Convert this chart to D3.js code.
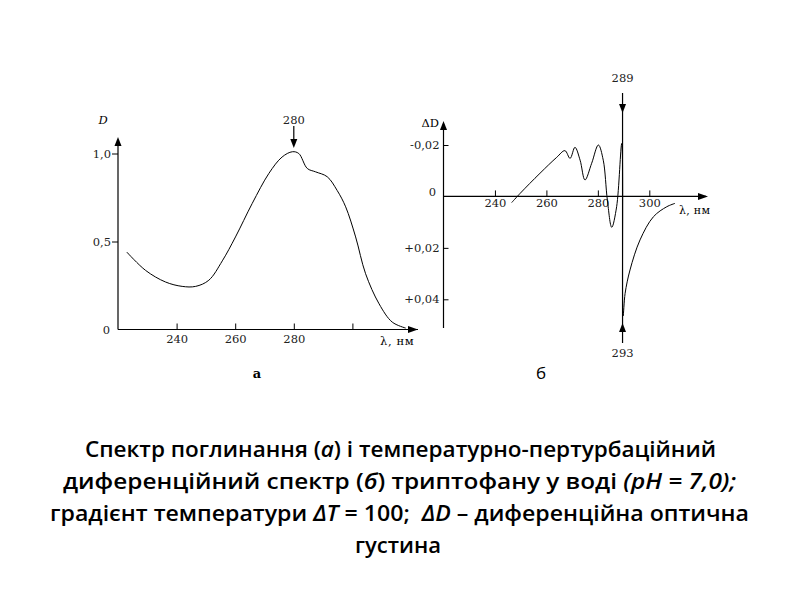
<!DOCTYPE html>
<html>
<head>
<meta charset="utf-8">
<script src="https://cdn.jsdelivr.net/npm/d3@7"></script>
<style>
  body { margin: 0; background: #fff; }
  svg { display: block; }
</style>
</head>
<body>
<svg id="chart"></svg>
<script>
// --- data ---
// (a) absorption spectrum
const lambdaA = [223, 229.4, 236.2, 241.9, 246.5, 251, 255.6, 260.1, 265.8, 271.5, 276, 279.5, 281.7, 284.6, 287.4, 291.4, 294.8, 297.7, 301.1, 304.5, 309.1, 313.6, 318.2];
const densityA = [0.44, 0.336, 0.27, 0.245, 0.245, 0.28, 0.39, 0.526, 0.716, 0.887, 0.98, 1.01, 1.0, 0.915, 0.896, 0.868, 0.79, 0.697, 0.526, 0.317, 0.146, 0.042, 0.008];
const xTicksA = [240, 260, 280, 300];
const xTickLabelsA = ["240", "260", "280", ""];
const yTicksA = [0.5, 1.0];
const yTickLabelsA = ["0,5", "1,0"];
const peakA = 280;

// (б) temperature-perturbation difference spectrum
const lambdaB = [246.5, 249.8, 257.5, 264.0, 267.2, 269.2, 271.1, 273.1, 275.0, 277.6, 280.2, 282.1, 283.7, 285.4, 287.3, 289.3, 289.8, 290.6, 292.5, 296.4, 301.6, 306.8, 310.0];
const deltaB = [0.0024, -0.0012, -0.009, -0.0152, -0.0178, -0.0148, -0.0191, -0.0141, -0.0064, -0.0129, -0.020, -0.0141, 0.0014, 0.012, 0.004, -0.0206, 0.0465, 0.0377, 0.0286, 0.0169, 0.0079, 0.0040, 0.0027];
const xTicksB = [240, 260, 280, 300];
const xTickLabelsB = ["240", "260", "280", "300"];
const yTicksB = [-0.02, 0.02, 0.04];
const yTickLabelsB = ["-0,02", "+0,02", "+0,04"];
const peakB = 289.6;
const peakLabelsB = ["289", "293"];

const width = 800, height = 600;
const svg = d3.select("#chart").attr("width", width).attr("height", height);
svg.append("rect").attr("width", width).attr("height", height).attr("fill", "#fff");

const serif = "'DejaVu Serif', 'Liberation Serif', serif";
const tickFont = 11.5;

function arrowHead(g, x, y, dir) {
  // dir: "up", "down", "right"
  let p;
  if (dir === "up") p = [[x, y], [x - 3.5, y + 9], [x + 3.5, y + 9]];
  else if (dir === "down") p = [[x, y], [x - 3.5, y - 9], [x + 3.5, y - 9]];
  else p = [[x, y], [x - 10, y - 3.5], [x - 10, y + 3.5]];
  g.append("path").attr("d", d3.line()(p) + "Z").attr("fill", "#000");
}

// ---------------- chart a ----------------
const xA = d3.scaleLinear().domain([220, 320]).range([118, 411]);
const yA = d3.scaleLinear().domain([0, 1]).range([329.5, 153.5]);
const gA = svg.append("g").attr("class", "chart-a");

gA.append("line").attr("x1", xA(220)).attr("x2", 418).attr("y1", yA(0)).attr("y2", yA(0))
  .attr("stroke", "#000").attr("stroke-width", 1.2);
gA.append("line").attr("x1", xA(220)).attr("x2", xA(220)).attr("y1", yA(0)).attr("y2", 140)
  .attr("stroke", "#000").attr("stroke-width", 1.2);
arrowHead(gA, 418, yA(0), "right");
arrowHead(gA, xA(220), 137, "up");

const axisXA = gA.append("g")
  .attr("transform", `translate(0,${yA(0)})`)
  .call(d3.axisBottom(xA).tickValues(xTicksA).tickSizeInner(-6).tickSizeOuter(0).tickPadding(5)
    .tickFormat((d, i) => xTickLabelsA[i]));
axisXA.select(".domain").remove();

const axisYA = gA.append("g")
  .attr("transform", `translate(${xA(220)},0)`)
  .call(d3.axisLeft(yA).tickValues(yTicksA).tickSizeInner(6).tickSizeOuter(0).tickPadding(1)
    .tickFormat((d, i) => yTickLabelsA[i]));
axisYA.select(".domain").remove();

[axisXA, axisYA].forEach(a => {
  a.selectAll("text").attr("font-family", serif).attr("font-size", tickFont).attr("fill", "#222");
  a.selectAll("line").attr("stroke", "#000");
});

gA.append("text").attr("x", 110).attr("y", yA(0) + 4).attr("text-anchor", "end")
  .attr("font-family", serif).attr("font-size", tickFont).attr("fill", "#222").text("0");
gA.append("text").attr("x", 103).attr("y", 124).attr("text-anchor", "middle")
  .attr("font-family", serif).attr("font-style", "italic").attr("font-size", tickFont).text("D");
gA.append("text").attr("x", 380).attr("y", 345)
  .attr("font-family", serif).attr("font-size", 11.5).attr("letter-spacing", 0.6).text("λ, нм");

const lineA = d3.line().x((d, i) => xA(lambdaA[i])).y(d => yA(d)).curve(d3.curveCatmullRom.alpha(0.5));
gA.append("path").datum(densityA).attr("d", lineA)
  .attr("fill", "none").attr("stroke", "#000").attr("stroke-width", 1);

gA.append("line").attr("x1", xA(peakA)).attr("x2", xA(peakA)).attr("y1", 126).attr("y2", 142)
  .attr("stroke", "#000").attr("stroke-width", 1.2);
arrowHead(gA, xA(peakA), 148, "down");
gA.append("text").attr("x", xA(peakA)).attr("y", 124).attr("text-anchor", "middle")
  .attr("font-family", serif).attr("font-size", tickFont).attr("fill", "#222").text(String(peakA));

gA.append("text").attr("x", 257).attr("y", 378).attr("text-anchor", "middle")
  .attr("font-family", serif).attr("font-weight", "bold").attr("font-size", 13).text("а");

// ---------------- chart б ----------------
const xB = d3.scaleLinear().domain([220, 300]).range([443.5, 649.3]);
const yB = d3.scaleLinear().domain([-0.02, 0.04]).range([145, 299.3]);
const gB = svg.append("g").attr("class", "chart-b");

gB.append("line").attr("x1", xB(220)).attr("x2", 706).attr("y1", yB(0)).attr("y2", yB(0))
  .attr("stroke", "#000").attr("stroke-width", 1.2);
gB.append("line").attr("x1", xB(220)).attr("x2", xB(220)).attr("y1", 328).attr("y2", 124)
  .attr("stroke", "#000").attr("stroke-width", 1.2);
arrowHead(gB, 708, yB(0), "right");
arrowHead(gB, xB(220), 121, "up");

const axisXB = gB.append("g")
  .attr("transform", `translate(0,${yB(0)})`)
  .call(d3.axisBottom(xB).tickValues(xTicksB).tickSizeInner(-6).tickSizeOuter(0).tickPadding(2)
    .tickFormat((d, i) => xTickLabelsB[i]));
axisXB.select(".domain").remove();

const axisYB = gB.append("g")
  .attr("transform", `translate(${xB(220)},0)`)
  .call(d3.axisLeft(yB).tickValues(yTicksB).tickSizeInner(4).tickSizeOuter(0).tickPadding(0)
    .tickFormat((d, i) => yTickLabelsB[i]));
axisYB.select(".domain").remove();
axisYB.selectAll(".tick line").attr("x2", 5);

[axisXB, axisYB].forEach(a => {
  a.selectAll("text").attr("font-family", serif).attr("font-size", tickFont).attr("fill", "#222");
  a.selectAll("line").attr("stroke", "#000");
});

gB.append("text").attr("x", 436).attr("y", yB(0) - 0.5).attr("text-anchor", "end")
  .attr("font-family", serif).attr("font-size", tickFont).attr("fill", "#222").text("0");
gB.append("text").attr("x", 439).attr("y", 127).attr("text-anchor", "end")
  .attr("font-family", serif).attr("font-size", tickFont).text("ΔD");
gB.append("text").attr("x", 679).attr("y", 214)
  .attr("font-family", serif).attr("font-size", 11).attr("letter-spacing", 0.3).text("λ, нм");

const lineB = d3.line().x((d, i) => xB(lambdaB[i])).y(d => yB(d)).curve(d3.curveCatmullRom.alpha(0.5));
gB.append("path").datum(deltaB).attr("d", lineB)
  .attr("fill", "none").attr("stroke", "#000").attr("stroke-width", 1);

// vertical marker line with both arrows
const xp = xB(peakB);
gB.append("line").attr("x1", xp).attr("x2", xp).attr("y1", 93).attr("y2", 343)
  .attr("stroke", "#000").attr("stroke-width", 1.2);
arrowHead(gB, xp, 113, "down");
arrowHead(gB, xp, 323, "up");
gB.append("text").attr("x", xp).attr("y", 82).attr("text-anchor", "middle")
  .attr("font-family", serif).attr("font-size", tickFont).attr("fill", "#222").text(peakLabelsB[0]);
gB.append("text").attr("x", xp).attr("y", 357).attr("text-anchor", "middle")
  .attr("font-family", serif).attr("font-size", tickFont).attr("fill", "#222").text(peakLabelsB[1]);

gB.append("text").attr("x", 541).attr("y", 379).attr("text-anchor", "middle")
  .attr("font-family", "'Open Sans', sans-serif").attr("font-size", 17).text("б");

// ---------------- caption ----------------
const capFont = "'Open Sans', 'Noto Sans', sans-serif";
const captionLines = [
  { y: 457, x0: 85, x1: 716, parts: [["Спектр поглинання (", 0], ["а", 1], [") і температурно-пертурбаційний", 0]] },
  { y: 489, x0: 63, x1: 736, parts: [["диференційний спектр (", 0], ["б", 1], [") триптофану у воді ", 0], ["(pH = 7,0);", 1]] },
  { y: 521, x0: 50, x1: 749, parts: [["градієнт температури ", 0], ["ΔT", 1], [" = 100;  ", 0], ["ΔD", 1], [" – диференційна оптична", 0]] },
  { y: 553, x0: 355, x1: 441, parts: [["густина", 0]] }
];
captionLines.forEach(l => {
  const t = svg.append("text").attr("x", l.x0).attr("y", l.y)
    .attr("font-family", capFont).attr("font-size", 22).attr("font-weight", 600).attr("fill", "#000")
    .attr("xml:space", "preserve")
    .attr("textLength", l.x1 - l.x0).attr("lengthAdjust", "spacingAndGlyphs");
  l.parts.forEach(p => {
    t.append("tspan").attr("font-style", p[1] ? "italic" : "normal").text(p[0]);
  });
});
</script>
</body>
</html>
